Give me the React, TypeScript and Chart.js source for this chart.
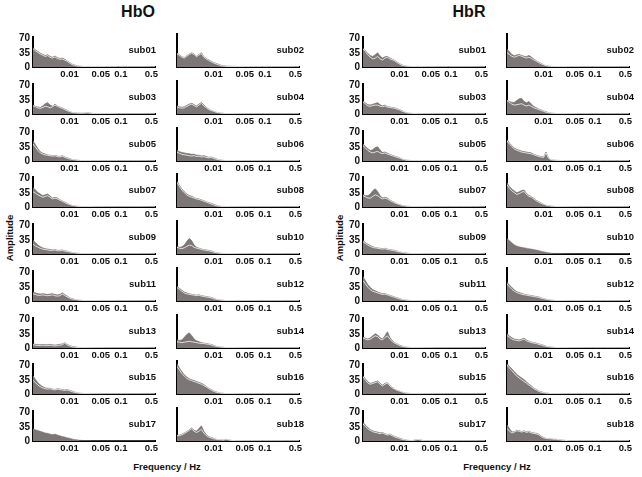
import React, { useEffect, useRef } from "react";
import { Chart, registerables } from "chart.js";

Chart.register(...registerables);

// ---- data ----
const FREQ_INDEX = [0, 2, 4, 6, 8, 10, 12, 14, 16, 18, 20, 22, 24, 26, 28, 30, 32, 34, 36, 38, 40, 45, 50, 60, 70, 80, 90, 100];
const X_TICK_POS = [30, 55.5, 72, 97];
const X_TICK_LABELS = ["0.01", "0.05", "0.1", "0.5"];
const Y_TICKS = [0, 35, 70];
const SUBJECTS = ["sub01", "sub02", "sub03", "sub04", "sub05", "sub06", "sub07", "sub08", "sub09", "sub10", "sub11", "sub12", "sub13", "sub14", "sub15", "sub16", "sub17", "sub18"];
const GROUPS = ["HbO", "HbR"];

const HBO_BASE: number[][] = [
  [45, 40, 36, 32, 29, 26, 28, 24, 22, 25, 21, 19, 20, 17, 14, 10, 6, 4, 2.5, 2, 1.5, 1, 1, 0.8, 0.6, 0.5, 0.5, 0.3],
  [30, 26, 22, 20, 24, 28, 31, 28, 23, 27, 30, 22, 18, 15, 12, 9, 7, 5, 3, 2, 1.5, 1, 1, 0.8, 0.6, 0.5, 0.5, 0.3],
  [20, 18, 15, 14, 16, 19, 18, 15, 18, 22, 19, 16, 14, 11, 8, 6, 4, 3, 2.5, 2, 2, 3, 1, 1, 0.6, 0.5, 0.5, 0.3],
  [16, 14, 13, 14, 17, 20, 22, 19, 16, 20, 24, 18, 14, 10, 8, 6, 4, 3, 2, 1.5, 1, 1, 0.8, 0.6, 0.5, 0.5, 0.4, 0.3],
  [42, 34, 26, 20, 17, 15, 14, 13, 12, 13, 11, 10, 12, 9, 7, 5, 4, 3, 2, 1.5, 1, 1, 0.8, 0.6, 0.5, 0.5, 0.4, 0.3],
  [20, 17, 15, 14, 13, 12, 11, 12, 10, 11, 9, 10, 8, 7, 8, 6, 4, 3, 2, 1.5, 1, 1, 0.8, 0.6, 0.5, 0.5, 0.4, 0.3],
  [38, 34, 30, 27, 24, 26, 28, 24, 20, 22, 20, 17, 14, 11, 8, 6, 4, 3, 2, 1.5, 1, 1, 0.8, 0.6, 0.5, 0.5, 0.4, 0.3],
  [55, 46, 38, 32, 27, 24, 22, 20, 18, 17, 15, 13, 11, 9, 7, 5, 3, 2, 1.5, 1, 1, 0.8, 0.6, 0.5, 0.5, 0.4, 0.3, 0.3],
  [24, 20, 17, 14, 12, 11, 10, 9, 9, 10, 8, 8, 9, 7, 6, 5, 4, 3, 2, 1.5, 1, 1, 0.8, 0.6, 0.5, 0.5, 0.4, 0.3],
  [15, 13, 12, 14, 17, 20, 19, 15, 13, 12, 10, 9, 8, 7, 6, 4, 3, 2, 1.5, 1, 1, 1, 0.8, 0.6, 0.5, 0.5, 0.4, 0.3],
  [18, 16, 14, 14, 15, 14, 13, 14, 15, 13, 12, 13, 17, 14, 10, 7, 5, 4, 3, 2, 1.5, 1, 1, 0.8, 0.6, 0.5, 0.4, 0.3],
  [30, 26, 22, 18, 16, 15, 14, 13, 12, 13, 11, 10, 9, 8, 7, 5, 4, 3, 2, 1.5, 1, 1, 0.8, 0.6, 0.5, 0.5, 0.4, 0.3],
  [8, 7, 6, 6, 7, 6, 6, 7, 6, 5, 6, 7, 8, 12, 8, 5, 3, 2, 1.5, 1, 1, 1, 0.8, 0.6, 0.5, 0.5, 0.4, 0.3],
  [14, 13, 12, 13, 14, 15, 14, 13, 12, 11, 10, 10, 9, 8, 7, 5, 4, 3, 2, 1.5, 1, 1, 0.8, 0.6, 0.5, 0.5, 0.4, 0.3],
  [34, 28, 22, 18, 15, 13, 12, 13, 11, 10, 12, 11, 10, 9, 10, 8, 6, 4, 3, 2, 1.5, 1, 0.8, 0.6, 0.5, 0.5, 0.4, 0.3],
  [62, 54, 46, 40, 35, 32, 30, 28, 26, 24, 22, 19, 16, 12, 9, 6, 4, 3, 2, 1.5, 1, 1, 0.8, 0.6, 0.5, 0.5, 0.4, 0.3],
  [30, 28, 26, 24, 22, 20, 19, 17, 16, 17, 15, 13, 11, 10, 8, 7, 5, 4, 3, 2, 1.5, 1, 0.8, 0.6, 0.5, 0.5, 0.4, 0.3],
  [12, 12, 14, 17, 20, 24, 27, 22, 19, 22, 26, 18, 12, 9, 7, 5, 4, 3, 3, 2, 4, 1, 0.8, 0.6, 0.5, 0.5, 0.4, 0.3],
];

const HBO_PEAK: (number[] | null)[] = [
  [48, 42, 38, 34, 31, 28, 30, 26, 24, 27, 23, 21, 22, 19, 15, 11, 7, 5, 3, 2, 1.5, 1, 1, 0.8, 0.6, 0.5, 0.5, 0.3],
  [31, 27, 23, 21, 25, 29, 32, 29, 24, 28, 32, 23, 19, 16, 13, 10, 8, 6, 4, 3, 2, 1.5, 1, 0.8, 0.6, 0.5, 0.5, 0.3],
  [22, 19, 17, 16, 20, 25, 28, 22, 19, 24, 20, 17, 15, 12, 9, 6, 4, 3, 2.5, 2, 2, 3, 1, 1, 0.6, 0.5, 0.5, 0.3],
  [18, 16, 15, 16, 19, 22, 24, 21, 18, 22, 26, 20, 15, 11, 8, 6, 4, 3, 2, 1.5, 1, 1, 0.8, 0.6, 0.5, 0.5, 0.4, 0.3],
  [50, 40, 30, 23, 19, 17, 15, 14, 13, 14, 12, 11, 13, 10, 8, 6, 4, 3, 2, 1.5, 1, 1, 0.8, 0.6, 0.5, 0.5, 0.4, 0.3],
  [24, 21, 19, 18, 17, 16, 15, 15, 13, 13, 11, 12, 10, 8, 9, 7, 5, 3, 2, 1.5, 1, 1, 0.8, 0.6, 0.5, 0.5, 0.4, 0.3],
  [48, 42, 36, 32, 28, 30, 32, 27, 22, 24, 22, 18, 15, 12, 9, 6, 4, 3, 2, 1.5, 1, 1, 0.8, 0.6, 0.5, 0.5, 0.4, 0.3],
  [58, 48, 40, 34, 29, 26, 24, 21, 19, 18, 16, 14, 12, 10, 8, 6, 4, 2.5, 1.5, 1, 1, 0.8, 0.6, 0.5, 0.5, 0.4, 0.3, 0.3],
  [34, 28, 22, 18, 15, 13, 12, 11, 10, 11, 9, 9, 10, 8, 7, 5, 4, 3, 2, 1.5, 1, 1, 0.8, 0.6, 0.5, 0.5, 0.4, 0.3],
  [17, 15, 16, 20, 28, 35, 30, 20, 15, 13, 11, 10, 9, 8, 7, 5, 3, 2, 1.5, 1, 1, 1, 0.8, 0.6, 0.5, 0.5, 0.4, 0.3],
  [22, 20, 18, 17, 18, 17, 16, 17, 18, 16, 15, 16, 20, 16, 12, 8, 6, 4, 3, 2, 1.5, 1, 1, 0.8, 0.6, 0.5, 0.4, 0.3],
  [33, 28, 24, 20, 18, 16, 15, 14, 13, 14, 12, 11, 10, 9, 8, 6, 4, 3, 2, 1.5, 1, 1, 0.8, 0.6, 0.5, 0.5, 0.4, 0.3],
  [10, 9, 8, 8, 9, 8, 8, 9, 8, 7, 8, 9, 10, 13, 9, 6, 4, 3, 2, 1, 1, 1, 0.8, 0.6, 0.5, 0.5, 0.4, 0.3],
  [18, 17, 18, 24, 30, 34, 28, 20, 16, 14, 12, 11, 10, 9, 8, 6, 4, 3, 2, 1.5, 1, 1, 0.8, 0.6, 0.5, 0.5, 0.4, 0.3],
  [45, 36, 28, 22, 18, 15, 14, 14, 12, 11, 13, 12, 11, 10, 11, 9, 7, 5, 3, 2, 1.5, 1, 0.8, 0.6, 0.5, 0.5, 0.4, 0.3],
  [68, 58, 50, 43, 38, 34, 32, 30, 28, 26, 24, 21, 17, 13, 10, 7, 5, 3, 2, 1.5, 1, 1, 0.8, 0.6, 0.5, 0.5, 0.4, 0.3],
  null,
  [13, 13, 15, 18, 21, 25, 29, 24, 22, 28, 34, 22, 14, 10, 8, 6, 4, 3, 3, 2, 4, 1, 0.8, 0.6, 0.5, 0.5, 0.4, 0.3],
];

const HBR_BASE: number[][] = [
  [45, 38, 30, 24, 20, 22, 26, 20, 17, 22, 24, 20, 18, 15, 11, 7, 4, 3, 2, 1.5, 1, 1, 0.8, 0.6, 0.5, 0.5, 0.4, 0.3],
  [32, 28, 24, 22, 24, 26, 24, 22, 20, 22, 19, 16, 13, 10, 7, 5, 3, 2, 1.5, 1, 1, 1, 0.8, 0.6, 0.5, 0.5, 0.4, 0.3],
  [30, 25, 20, 19, 21, 22, 22, 19, 18, 20, 17, 16, 15, 14, 12, 10, 7, 5, 3, 2, 1.5, 1, 0.8, 0.6, 0.5, 0.5, 0.4, 0.3],
  [30, 26, 22, 20, 21, 22, 23, 20, 18, 20, 17, 14, 12, 10, 8, 6, 4, 3, 2, 1.5, 1, 1, 0.8, 0.6, 0.5, 0.5, 0.4, 0.3],
  [38, 32, 26, 22, 20, 22, 24, 20, 18, 20, 17, 15, 13, 11, 9, 7, 5, 3, 2, 1.5, 1, 1, 0.8, 0.6, 0.5, 0.5, 0.4, 0.3],
  [45, 38, 32, 27, 24, 22, 20, 19, 18, 17, 16, 14, 12, 10, 9, 8, 18, 6, 3, 2, 1.5, 1, 0.8, 0.6, 0.5, 0.5, 0.4, 0.3],
  [28, 25, 22, 22, 26, 30, 28, 23, 20, 22, 20, 16, 13, 10, 8, 6, 4, 3, 2, 1.5, 1, 1, 0.8, 0.6, 0.5, 0.5, 0.4, 0.3],
  [50, 42, 36, 32, 28, 30, 33, 35, 28, 24, 22, 18, 14, 11, 8, 6, 4, 3, 2, 1.5, 1, 1, 0.8, 0.6, 0.5, 0.5, 0.4, 0.3],
  [30, 26, 22, 19, 16, 15, 14, 13, 12, 13, 11, 10, 9, 8, 6, 5, 4, 3, 2, 1.5, 1, 1, 0.8, 0.6, 0.5, 0.5, 0.4, 0.3],
  [35, 30, 25, 21, 18, 16, 15, 14, 13, 12, 11, 10, 9, 8, 6, 5, 4, 3, 2, 1.5, 1, 1, 0.8, 0.6, 0.5, 0.5, 0.4, 0.3],
  [50, 42, 34, 28, 24, 22, 20, 18, 16, 17, 15, 13, 11, 9, 7, 5, 4, 3, 2, 1.5, 1, 1, 0.8, 0.6, 0.5, 0.5, 0.4, 0.3],
  [38, 32, 26, 22, 19, 17, 15, 14, 13, 12, 11, 10, 9, 8, 6, 5, 4, 3, 2, 1.5, 1, 1, 0.8, 0.6, 0.5, 0.5, 0.4, 0.3],
  [25, 22, 20, 22, 26, 30, 28, 22, 20, 26, 30, 22, 16, 12, 9, 6, 4, 3, 2, 1.5, 1, 1, 0.8, 0.6, 0.5, 0.5, 0.4, 0.3],
  [28, 24, 20, 18, 17, 16, 18, 20, 16, 14, 12, 11, 10, 8, 7, 5, 4, 3, 2, 1.5, 1, 1, 0.8, 0.6, 0.5, 0.5, 0.4, 0.3],
  [42, 34, 27, 24, 26, 28, 30, 24, 20, 24, 27, 20, 15, 12, 9, 7, 5, 3, 2, 1.5, 1, 1, 0.8, 0.6, 0.5, 0.5, 0.4, 0.3],
  [65, 58, 52, 46, 40, 36, 32, 28, 24, 20, 16, 12, 9, 6, 4, 3, 2, 1.5, 1, 1, 1, 0.8, 0.6, 0.5, 0.5, 0.4, 0.3, 0.3],
  [42, 36, 30, 26, 23, 21, 20, 18, 20, 17, 15, 16, 13, 10, 8, 6, 4, 3, 2, 1.5, 1, 4, 0.8, 0.6, 0.5, 0.5, 0.4, 0.3],
  [28, 22, 18, 20, 23, 22, 20, 22, 19, 21, 18, 17, 16, 14, 10, 7, 6, 5, 5, 4, 4, 2, 0.8, 0.6, 0.5, 0.5, 0.4, 0.3],
];

const HBR_PEAK: (number[] | null)[] = [
  [46, 40, 33, 28, 26, 30, 35, 27, 22, 25, 26, 22, 19, 16, 12, 8, 5, 3, 2, 1.5, 1, 1, 0.8, 0.6, 0.5, 0.5, 0.4, 0.3],
  [40, 34, 28, 25, 27, 28, 26, 24, 23, 26, 22, 18, 14, 11, 8, 5, 3, 2, 1.5, 1, 1, 1, 0.8, 0.6, 0.5, 0.5, 0.4, 0.3],
  [31, 27, 23, 22, 24, 26, 28, 23, 20, 22, 18, 17, 16, 15, 13, 11, 8, 5, 3, 2, 1.5, 1, 0.8, 0.6, 0.5, 0.5, 0.4, 0.3],
  [31, 28, 26, 26, 30, 34, 35, 28, 25, 28, 22, 17, 14, 11, 9, 7, 5, 3, 2, 1.5, 1, 1, 0.8, 0.6, 0.5, 0.5, 0.4, 0.3],
  [42, 36, 30, 26, 28, 33, 35, 27, 21, 22, 19, 16, 14, 12, 10, 8, 5, 3, 2, 1.5, 1, 1, 0.8, 0.6, 0.5, 0.5, 0.4, 0.3],
  [48, 40, 34, 29, 26, 24, 22, 21, 20, 19, 18, 15, 13, 11, 10, 9, 20, 7, 3, 2, 1.5, 1, 0.8, 0.6, 0.5, 0.5, 0.4, 0.3],
  [30, 28, 28, 32, 40, 45, 38, 28, 22, 24, 22, 17, 14, 11, 8, 6, 4, 3, 2, 1.5, 1, 1, 0.8, 0.6, 0.5, 0.5, 0.4, 0.3],
  [54, 46, 40, 36, 32, 34, 37, 38, 30, 26, 23, 19, 15, 12, 9, 6, 4, 3, 2, 1.5, 1, 1, 0.8, 0.6, 0.5, 0.5, 0.4, 0.3],
  [33, 28, 24, 21, 18, 16, 15, 14, 13, 14, 12, 11, 10, 9, 7, 5, 4, 3, 2, 1.5, 1, 1, 0.8, 0.6, 0.5, 0.5, 0.4, 0.3],
  null,
  [60, 50, 40, 33, 28, 25, 22, 20, 18, 18, 16, 14, 12, 10, 8, 6, 4, 3, 2, 1.5, 1, 1, 0.8, 0.6, 0.5, 0.5, 0.4, 0.3],
  [42, 36, 30, 25, 21, 19, 17, 15, 14, 13, 12, 11, 10, 9, 7, 5, 4, 3, 2, 1.5, 1, 1, 0.8, 0.6, 0.5, 0.5, 0.4, 0.3],
  [27, 24, 22, 25, 30, 35, 32, 25, 22, 30, 40, 26, 18, 13, 10, 7, 5, 3, 2, 1.5, 1, 1, 0.8, 0.6, 0.5, 0.5, 0.4, 0.3],
  [32, 27, 23, 20, 19, 18, 20, 22, 18, 15, 13, 12, 11, 9, 8, 6, 4, 3, 2, 1.5, 1, 1, 0.8, 0.6, 0.5, 0.5, 0.4, 0.3],
  [45, 37, 30, 26, 28, 30, 32, 26, 22, 26, 28, 21, 16, 12, 9, 7, 5, 3, 2, 1.5, 1, 1, 0.8, 0.6, 0.5, 0.5, 0.4, 0.3],
  [68, 62, 56, 50, 44, 40, 36, 32, 27, 22, 18, 13, 10, 7, 5, 3, 2, 1.5, 1, 1, 1, 0.8, 0.6, 0.5, 0.5, 0.4, 0.3, 0.3],
  [46, 39, 33, 28, 25, 23, 22, 20, 21, 18, 16, 17, 14, 11, 9, 7, 5, 3, 2, 1.5, 1, 4, 0.8, 0.6, 0.5, 0.5, 0.4, 0.3],
  [36, 28, 20, 21, 24, 23, 21, 23, 20, 22, 19, 18, 17, 15, 11, 8, 6, 5, 5, 4, 4, 2, 0.8, 0.6, 0.5, 0.5, 0.4, 0.3],
];

// ---- layout / style ----
const FONT = '"Liberation Sans", Arial, Helvetica, sans-serif';
const FILL = "#7d7676";
const INK = "#111111";
const COL_X = [33, 177, 363, 507];
const PLOT_W = 122;
const PLOT_H = 33;
const ROW_BOTTOM0 = 67;
const ROW_STEP = 46.75;
const Y_MAX = 74;
const LW = 32;
const PAD_T = 6;
const PAD_R = 10;
const XH = 16;

type PanelSpec = { key: string; group: number; subj: number; left: number; top: number; bottom: number; colX: number; showY: boolean };

const PANELS: PanelSpec[] = [];
for (let g = 0; g < 2; g++) {
  for (let s = 0; s < 18; s++) {
    const row = Math.floor(s / 2);
    const col = s % 2;
    const colX = COL_X[g * 2 + col];
    const bottom = ROW_BOTTOM0 + row * ROW_STEP;
    const top = Math.round(bottom - PLOT_H - PAD_T);
    PANELS.push({ key: `${g}-${s}`, group: g, subj: s, left: colX - LW, top, bottom: top + PAD_T + PLOT_H, colX, showY: col === 0 });
  }
}

function Panel({ spec }: { spec: PanelSpec }) {
  const ref = useRef<HTMLCanvasElement | null>(null);
  useEffect(() => {
    if (!ref.current) return;
    const base = spec.group === 0 ? HBO_BASE[spec.subj] : HBR_BASE[spec.subj];
    const peak = spec.group === 0 ? HBO_PEAK[spec.subj] : HBR_PEAK[spec.subj];
    const datasets: any[] = [
      {
        data: FREQ_INDEX.map((x, i) => ({ x, y: base[i] })),
        fill: "origin",
        backgroundColor: FILL,
        borderColor: peak ? "rgba(255,255,255,0.85)" : FILL,
        borderWidth: peak ? 0.9 : 0.5,
        pointRadius: 0,
        tension: 0,
      },
    ];
    if (peak) {
      datasets.push({
        data: FREQ_INDEX.map((x, i) => ({ x, y: peak[i] })),
        fill: "origin",
        backgroundColor: FILL,
        borderColor: FILL,
        borderWidth: 0.8,
        pointRadius: 0,
        tension: 0,
      });
    }
    const xFont = { family: FONT, size: 9.5, weight: "bold" as const };
    const yFont = { family: FONT, size: 10, weight: "bold" as const };
    const chart = new Chart(ref.current, {
      type: "line",
      data: { datasets },
      options: {
        animation: false,
        responsive: false,
        maintainAspectRatio: false,
        events: [],
        layout: { padding: { top: PAD_T, right: PAD_R, left: 0, bottom: 0 } },
        plugins: { legend: { display: false }, tooltip: { enabled: false } },
        scales: {
          x: {
            type: "linear",
            min: 0,
            max: 100,
            grid: { display: false, drawTicks: false },
            border: { display: true, color: "#000", width: 2 },
            ticks: {
              autoSkip: false,
              maxRotation: 0,
              padding: 2,
              color: INK,
              font: xFont,
              callback: (v: any) => {
                const idx = X_TICK_POS.indexOf(Number(v));
                return idx >= 0 ? X_TICK_LABELS[idx] : "";
              },
            },
            afterBuildTicks: (s: any) => {
              s.ticks = X_TICK_POS.map((value) => ({ value }));
            },
            afterFit: (s: any) => {
              s.height = XH;
            },
          },
          y: {
            type: "linear",
            min: 0,
            max: Y_MAX,
            grid: { display: false, drawTicks: false },
            border: { display: true, color: "#000", width: 2 },
            ticks: { display: spec.showY, padding: 3, color: INK, font: yFont },
            afterBuildTicks: (s: any) => {
              s.ticks = Y_TICKS.map((value) => ({ value }));
            },
            afterFit: (s: any) => {
              s.width = LW;
            },
          },
        },
      },
    });
    return () => chart.destroy();
  }, [spec]);
  const w = LW + PLOT_W + PAD_R;
  const h = PAD_T + PLOT_H + XH;
  return (
    <>
      <canvas
        ref={ref}
        width={w}
        height={h}
        style={{ position: "absolute", left: spec.left, top: spec.top, width: w, height: h }}
      />
      <div
        style={{
          position: "absolute",
          left: spec.colX + PLOT_W - 60 + (spec.showY ? 1 : 5),
          width: 60,
          top: spec.bottom - 23,
          textAlign: "right",
          font: `bold 9.5px ${FONT}`,
          color: INK,
          lineHeight: "11px",
        }}
      >
        {SUBJECTS[spec.subj]}
      </div>
    </>
  );
}

export default function App() {
  const textBase: React.CSSProperties = { position: "absolute", fontFamily: FONT, fontWeight: "bold", color: INK, whiteSpace: "nowrap" };
  return (
    <div style={{ position: "absolute", left: 0, top: 0, width: 642, height: 477, background: "#fff", overflow: "hidden" }}>
      {GROUPS.map((g, i) => (
        <div key={g} style={{ ...textBase, fontSize: 16, left: (i === 0 ? 138 : 469) - 40, width: 80, top: 3, textAlign: "center", lineHeight: "18px" }}>
          {g}
        </div>
      ))}
      {[10, 340].map((x, i) => (
        <div
          key={`amp${i}`}
          style={{ ...textBase, fontSize: 9.5, left: x - 40, top: 238 - 6, width: 80, textAlign: "center", lineHeight: "12px", transform: "rotate(-90deg)" }}
        >
          Amplitude
        </div>
      ))}
      {[167, 497].map((x, i) => (
        <div key={`freq${i}`} style={{ ...textBase, fontSize: 9.5, left: x - 60, top: 461, width: 120, textAlign: "center", lineHeight: "12px" }}>
          Frequency / Hz
        </div>
      ))}
      {PANELS.map((p) => (
        <Panel key={p.key} spec={p} />
      ))}
    </div>
  );
}
